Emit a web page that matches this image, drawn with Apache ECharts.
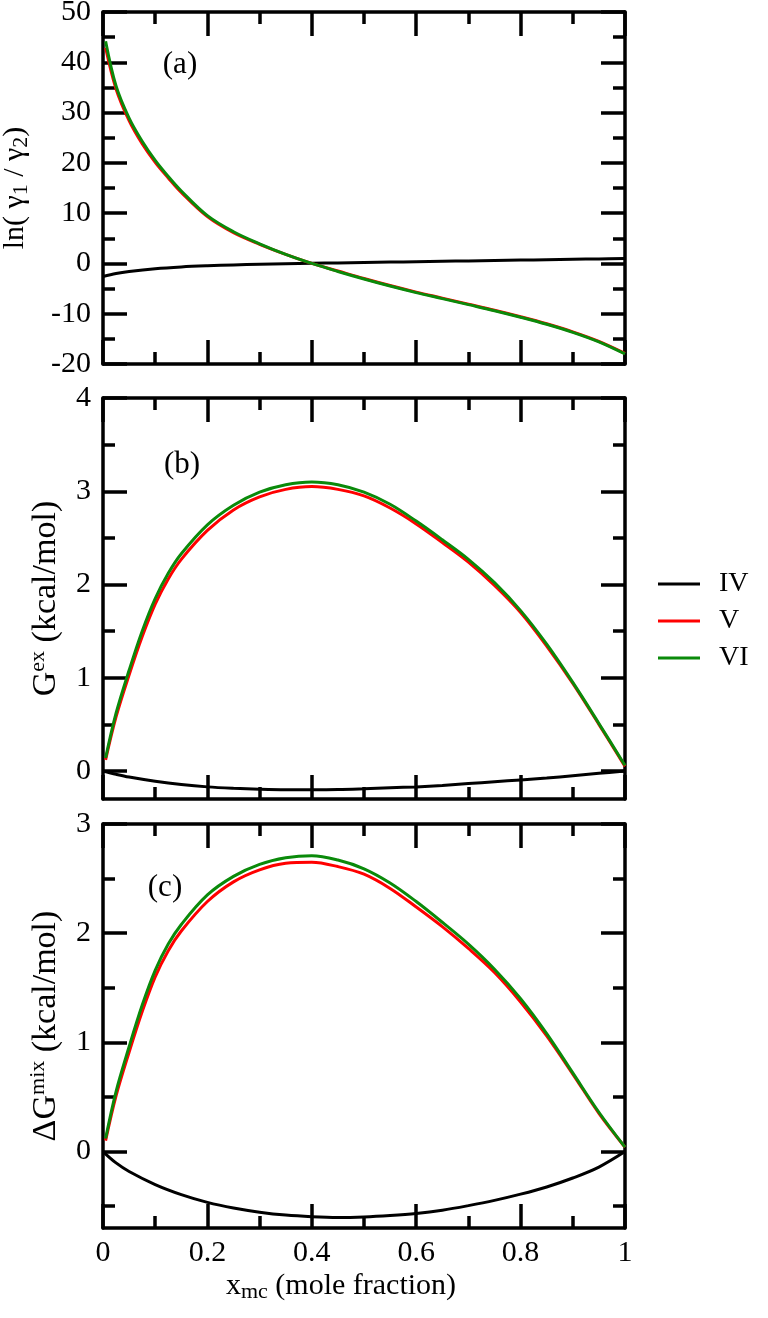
<!DOCTYPE html>
<html><head><meta charset="utf-8">
<script src="https://cdn.jsdelivr.net/npm/echarts@6/dist/echarts.min.js"></script>
<style>html,body{margin:0;padding:0;background:#fff}#c{width:768px;height:1318px}</style>
</head><body><div id="c"></div>
<script>
// ---- data ----
const seriesNames = ['IV', 'V', 'VI'];
const xIV = [0, 0.025, 0.05, 0.1, 0.15, 0.2, 0.25, 0.3, 0.35, 0.4, 0.45, 0.5, 0.55, 0.6, 0.65, 0.7, 0.75, 0.8, 0.85, 0.9, 0.95, 1.0];
const xV = [0.005, 0.025, 0.05, 0.075, 0.1, 0.125, 0.15, 0.2, 0.25, 0.3, 0.35, 0.4, 0.45, 0.5, 0.55, 0.6, 0.65, 0.7, 0.75, 0.8, 0.85, 0.9, 0.95, 1.0];

// panel (a): ln(gamma1/gamma2)
const lnRatioIV = [-2.6, -2.0, -1.6, -1.05, -0.7, -0.47, -0.3, -0.17, -0.07, 0.02, 0.1, 0.18, 0.26, 0.34, 0.42, 0.5, 0.58, 0.66, 0.74, 0.82, 0.9, 1.0];
const lnRatioV = [42.9, 34.7, 28.4, 23.8, 20.1, 17.0, 14.1, 9.3, 6.1, 3.8, 1.8, 0.0, -1.5, -3.0, -4.4, -5.7, -6.9, -8.1, -9.3, -10.6, -12.0, -13.6, -15.5, -17.9];
const lnRatioVI = [44.2, 35.3, 28.9, 24.3, 20.5, 17.3, 14.4, 9.5, 6.3, 3.9, 1.8, 0.0, -1.6, -3.1, -4.5, -5.8, -7.0, -8.2, -9.4, -10.7, -12.1, -13.7, -15.6, -18.0];

// panel (b): G^ex (kcal/mol)
const gexIV = [0, -0.035, -0.065, -0.11, -0.145, -0.17, -0.185, -0.195, -0.2, -0.2, -0.198, -0.19, -0.18, -0.17, -0.155, -0.135, -0.115, -0.095, -0.075, -0.05, -0.025, 0];
const gexV = [0.12, 0.58, 1.03, 1.44, 1.79, 2.06, 2.27, 2.58, 2.80, 2.94, 3.02, 3.05, 3.02, 2.95, 2.82, 2.65, 2.45, 2.24, 1.99, 1.70, 1.34, 0.94, 0.50, 0.05];
const gexVI = [0.14, 0.62, 1.08, 1.50, 1.85, 2.12, 2.33, 2.64, 2.85, 2.99, 3.07, 3.10, 3.07, 2.99, 2.86, 2.68, 2.48, 2.27, 2.02, 1.72, 1.36, 0.95, 0.51, 0.06];

// panel (c): Delta G^mix (kcal/mol)
const gmixIV = [0, -0.104, -0.182, -0.302, -0.394, -0.465, -0.517, -0.555, -0.582, -0.597, -0.604, -0.599, -0.586, -0.567, -0.537, -0.495, -0.447, -0.39, -0.324, -0.242, -0.142, 0];
const gmixV = [0.10, 0.51, 0.91, 1.28, 1.60, 1.84, 2.02, 2.29, 2.47, 2.58, 2.64, 2.65, 2.61, 2.54, 2.41, 2.24, 2.06, 1.86, 1.64, 1.37, 1.06, 0.71, 0.35, 0.04];
const gmixVI = [0.12, 0.55, 0.96, 1.34, 1.66, 1.90, 2.08, 2.35, 2.52, 2.63, 2.69, 2.71, 2.67, 2.59, 2.46, 2.29, 2.10, 1.90, 1.67, 1.40, 1.08, 0.72, 0.36, 0.04];

// axis ticks / labels
const xTickLabels = [0, 0.2, 0.4, 0.6, 0.8, 1];
const aMajor = [-20, -10, 0, 10, 20, 30, 40, 50];
const aMinor = [-15, -5, 5, 15, 25, 35, 45];
const bMajor = [0, 1, 2, 3, 4];
const bMinor = [0.5, 1.5, 2.5, 3.5];
const cMajor = [0, 1, 2, 3];
const cMinor = [-0.5, 0.5, 1.5, 2.5];
const panelLabels = ['(a)', '(b)', '(c)'];

// ---- chart ----
const FONT = 'Liberation Serif';
const colors = ['#000000', '#ff0000', '#0a8a0a'];
const grids = [
  {left: 103, right: 143, top: 12, height: 352, outerBoundsMode: 'none', containLabel: false},
  {left: 103, right: 143, top: 398, height: 401, outerBoundsMode: 'none', containLabel: false},
  {left: 103, right: 143, top: 824, height: 404, outerBoundsMode: 'none', containLabel: false}
];
const ranges = [[-20, 50], [-0.3, 4], [-0.7, 3]];
const majors = [aMajor, bMajor, cMajor];
const minors = [aMinor, bMinor, cMinor];
const yNames = [
  'ln( γ{sub|1} / γ{sub|2})',
  'G{sup|ex} (kcal/mol)',
  'ΔG{sup|mix} (kcal/mol)'
];
const yNameGaps = [71, 35, 35];
const yNameSizes = [30, 34, 34];
const rich = {
  sub: {fontFamily: FONT, fontSize: 22, lineHeight: 10, verticalAlign: 'bottom', color: '#000'},
  sup: {fontFamily: FONT, fontSize: 22, lineHeight: 4, verticalAlign: 'top', color: '#000'}
};
const lineW = 3.5;
const tickLine = {color: '#000', width: lineW};

const xAxes = [], yAxes = [], series = [];
grids.forEach((g, i) => {
  ['bottom', 'top'].forEach(pos => {
    const isMain = pos === 'bottom';
    const ax = {
      type: 'value', gridIndex: i, position: pos, min: 0, max: 1, interval: 0.2,
      axisLine: {show: true, onZero: false, lineStyle: tickLine},
      axisTick: {show: true, inside: true, length: 24, lineStyle: tickLine},
      minorTick: {show: true, splitNumber: 2, length: 12, lineStyle: tickLine},
      splitLine: {show: false}, minorSplitLine: {show: false},
      axisLabel: {show: isMain && i === 2, fontFamily: FONT, fontSize: 30, color: '#000', margin: 10,
        customValues: xTickLabels}
    };
    if (isMain && i === 2) {
      ax.name = 'x{sub|mc} (mole fraction)';
      ax.nameLocation = 'middle';
      ax.nameGap = 28;
      ax.nameTextStyle = {fontFamily: FONT, fontSize: 30, lineHeight: 34, color: '#000', rich: rich,
        padding: [0, 46, 0, 0]};
    }
    xAxes.push(ax);
  });
  const [mn, mx] = ranges[i];
  ['left', 'right'].forEach(pos => {
    const maj = {
      type: 'value', gridIndex: i, position: pos, min: mn, max: mx,
      axisLine: {show: true, onZero: false, lineStyle: tickLine},
      axisTick: {show: true, inside: true, length: 24, lineStyle: tickLine, customValues: majors[i]},
      splitLine: {show: false},
      axisLabel: {show: pos === 'left', fontFamily: FONT, fontSize: 30, color: '#000', margin: 12,
        customValues: majors[i]}
    };
    if (pos === 'left') {
      maj.name = yNames[i];
      maj.nameLocation = 'middle';
      maj.nameGap = yNameGaps[i];
      maj.nameRotate = 90;
      maj.nameTextStyle = {fontFamily: FONT, fontSize: yNameSizes[i], lineHeight: yNameSizes[i] + 4,
        color: '#000', rich: rich};
    }
    yAxes.push(maj);
    yAxes.push({
      type: 'value', gridIndex: i, position: pos, min: mn, max: mx,
      axisLine: {show: false, onZero: false},
      axisTick: {show: true, inside: true, length: 12, lineStyle: tickLine, customValues: minors[i]},
      splitLine: {show: false},
      axisLabel: {show: false}
    });
  });
});

const panelData = [
  [lnRatioIV, lnRatioV, lnRatioVI],
  [gexIV, gexV, gexVI],
  [gmixIV, gmixV, gmixVI]
];
panelData.forEach((arrs, i) => {
  arrs.forEach((vals, k) => {
    const xs = k === 0 ? xIV : xV;
    series.push({
      type: 'line', name: seriesNames[k],
      xAxisIndex: i * 2, yAxisIndex: i * 4,
      data: xs.map((x, j) => [x, vals[j]]),
      symbol: 'none', smooth: 0.35,
      lineStyle: {color: colors[k], width: 3},
      itemStyle: {color: colors[k]},
      z: 2 + k, animation: false
    });
  });
});

const chart = echarts.init(document.getElementById('c'), null, {renderer: 'canvas'});
chart.setOption({
  backgroundColor: '#fff',
  animation: false,
  grid: grids,
  xAxis: xAxes,
  yAxis: yAxes,
  series: series,
  legend: {
    data: seriesNames, orient: 'vertical', left: 653, top: 565,
    icon: 'rect', itemWidth: 42, itemHeight: 3, itemGap: 9,
    textStyle: {fontFamily: FONT, fontSize: 28, lineHeight: 28, color: '#000', padding: [0, 0, 0, 14]}
  },
  graphic: [
    {type: 'text', x: 180, y: 65, style: {text: panelLabels[0], font: '31px "Liberation Serif"', fill: '#000', textAlign: 'center', textVerticalAlign: 'middle'}},
    {type: 'text', x: 182, y: 465, style: {text: panelLabels[1], font: '31px "Liberation Serif"', fill: '#000', textAlign: 'center', textVerticalAlign: 'middle'}},
    {type: 'text', x: 165, y: 888, style: {text: panelLabels[2], font: '31px "Liberation Serif"', fill: '#000', textAlign: 'center', textVerticalAlign: 'middle'}}
  ]
});
</script></body></html>
